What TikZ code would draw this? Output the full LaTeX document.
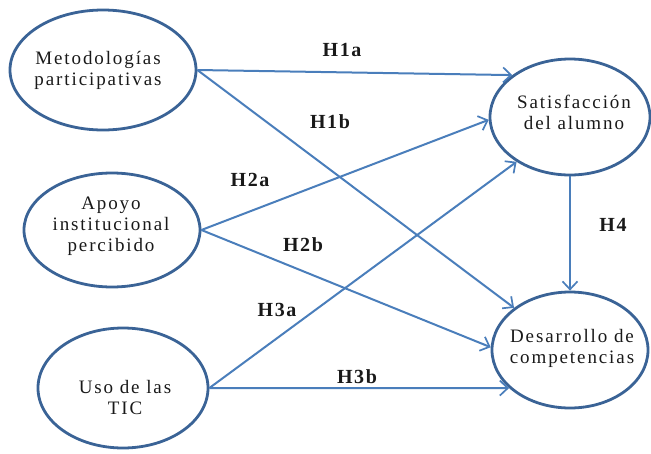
\documentclass[tikz,border=0pt]{standalone}
\usepackage{fontspec}
\usetikzlibrary{shapes.geometric,arrows.meta}
\newfontfamily\lblfont[LetterSpace=10]{Liberation Serif}
\newfontfamily\hypfont[LetterSpace=8]{Liberation Serif}
\definecolor{ellcol}{HTML}{3A6396}
\definecolor{arrcol}{HTML}{4A7EBB}
\tikzset{
  ellbox/.style={ellipse, draw=ellcol, line width=2.8pt, inner sep=0pt},
  txt/.style={align=center, font=\lblfont\fontsize{19}{21}\selectfont, text=black!90, inner sep=0pt},
  hyp/.style={font=\hypfont\bfseries\fontsize{20}{22}\selectfont, text=black!90, inner sep=0pt},
  conn/.style={draw=arrcol, line width=2pt, -{Straight Barb[length=8pt,width=15pt,line width=1.7pt]}},
}
\begin{document}
\begin{tikzpicture}[x=1pt,y=-1pt]
\useasboundingbox (0,0) rectangle (651,453);
% ellipses
\node[ellbox, minimum width=186pt, minimum height=120pt] (met) at (103,70) {};
\node[ellbox, minimum width=176pt, minimum height=114pt] (apo) at (112,230) {};
\node[ellbox, minimum width=170pt, minimum height=120pt] (uso) at (123,388) {};
\node[ellbox, minimum width=160pt, minimum height=116pt] (sat) at (570,117) {};
\node[ellbox, minimum width=156pt, minimum height=116pt] (des) at (570,350) {};
% texts
\node[txt] (mett) at (98,70) {Metodologías\\participativas};
\node[txt] (apot) at (111,226) {Apoyo\\institucional\\percibido};
\node[txt] (usot) at (125,397) {Uso de las\\TIC};
\node[txt] (satt) at (574,112) {Satisfacción\\del alumno};
\node[txt] (dest) at (572,348) {Desarrollo de\\competencias};
% connectors
\draw[conn] (met.east) -- (sat.144);
\draw[conn] (met.east) -- (des.143);
\draw[conn] (apo.east) -- (sat.182);
\draw[conn] (apo.east) -- (des.178);
\draw[conn] (uso.east) -- (sat.220);
\draw[conn] (uso.east) -- (des.212);
\draw[conn] (sat.south) -- (des.north);
% labels
\node[hyp] (h1a) at (342,50) {H1a};
\node[hyp] (h1b) at (330,122) {H1b};
\node[hyp] (h2a) at (250,180) {H2a};
\node[hyp] (h2b) at (303,245) {H2b};
\node[hyp] (h3a) at (277,310) {H3a};
\node[hyp] (h3b) at (357,377) {H3b};
\node[hyp] (h4) at (613,225) {H4};
\end{tikzpicture}
\end{document}
